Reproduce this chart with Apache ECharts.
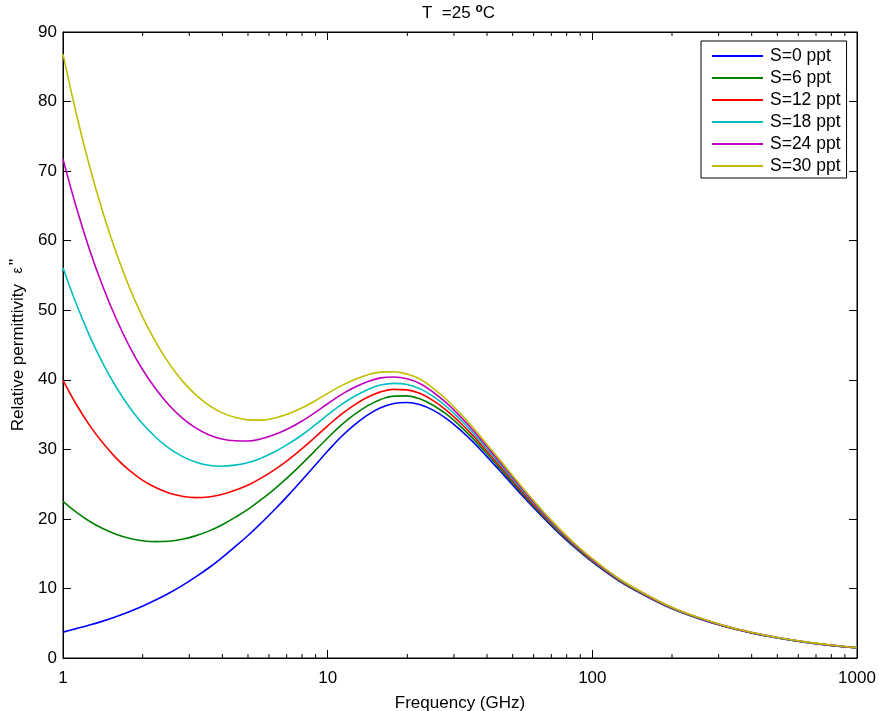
<!DOCTYPE html>
<html><head><meta charset="utf-8">
<script src="https://cdn.jsdelivr.net/npm/echarts/dist/echarts.min.js"></script>
<style>html,body{margin:0;padding:0;background:#fff}#c{width:879px;height:711px}</style>
</head><body><div id="c"></div>
<script>
// Frequency (GHz), log-spaced samples
const freq = [1, 1.122, 1.259, 1.413, 1.585, 1.778, 1.995, 2.239, 2.512, 2.818, 3.162, 3.548, 3.981, 4.467, 5.012, 5.623, 6.31, 7.079, 7.943, 8.913,
  10, 11.22, 12.59, 14.13, 15.85, 17.78, 19.95, 22.39, 25.12, 28.18, 31.62, 35.48, 39.81, 44.67, 50.12, 56.23, 63.1, 70.79, 79.43, 89.13,
  100, 125.9, 158.5, 199.5, 251.2, 316.2, 398.1, 501.2, 631, 794.3, 1000];
// Relative permittivity eps'' per salinity
const s0 = [3.72, 4.22, 4.73, 5.3, 5.94, 6.65, 7.44, 8.33, 9.31, 10.4, 11.62, 12.94, 14.41, 16.0, 17.65, 19.45, 21.35, 23.35, 25.45, 27.6,
  29.75, 31.77, 33.49, 34.92, 35.98, 36.59, 36.74, 36.4, 35.6, 34.39, 32.83, 31.03, 29.03, 26.95, 24.84, 22.75, 20.74, 18.82, 17.02, 15.35,
  13.81, 11.1, 8.95, 7.1, 5.68, 4.52, 3.6, 2.87, 2.28, 1.81, 1.45];
const s6 = [22.52, 20.97, 19.66, 18.61, 17.8, 17.22, 16.86, 16.73, 16.79, 17.07, 17.56, 18.24, 19.13, 20.21, 21.4, 22.79, 24.33, 26.0, 27.81, 29.71,
  31.63, 33.45, 34.98, 36.25, 37.17, 37.65, 37.68, 37.24, 36.31, 35.01, 33.37, 31.5, 29.43, 27.3, 25.14, 23.0, 20.96, 19.0, 17.17, 15.47,
  13.91, 11.18, 9.01, 7.15, 5.72, 4.55, 3.62, 2.89, 2.3, 1.82, 1.46];
const s12 = [39.92, 36.48, 33.48, 30.93, 28.78, 27.0, 25.58, 24.5, 23.72, 23.25, 23.06, 23.14, 23.5, 24.1, 24.87, 25.89, 27.09, 28.46, 30.0, 31.66,
  33.37, 35.0, 36.36, 37.48, 38.26, 38.62, 38.55, 38.02, 36.97, 35.58, 33.86, 31.93, 29.8, 27.62, 25.42, 23.24, 21.15, 19.16, 17.3, 15.59,
  14.01, 11.24, 9.06, 7.19, 5.75, 4.58, 3.65, 2.91, 2.31, 1.83, 1.47];
const s18 = [56.12, 50.92, 46.35, 42.39, 39.0, 36.12, 33.7, 31.74, 30.17, 28.99, 28.19, 27.71, 27.57, 27.73, 28.1, 28.77, 29.66, 30.74, 31.99, 33.43,
  34.94, 36.39, 37.6, 38.58, 39.24, 39.48, 39.32, 38.69, 37.58, 36.12, 34.32, 32.33, 30.15, 27.92, 25.68, 23.46, 21.34, 19.32, 17.43, 15.69,
  14.1, 11.31, 9.12, 7.23, 5.78, 4.6, 3.67, 2.92, 2.32, 1.84, 1.48];
const s24 = [71.72, 64.83, 58.74, 53.44, 48.85, 44.89, 41.52, 38.71, 36.38, 34.53, 33.12, 32.1, 31.49, 31.23, 31.2, 31.52, 32.12, 32.95, 34.0, 35.23,
  36.55, 37.83, 38.89, 39.73, 40.27, 40.41, 40.15, 39.44, 38.17, 36.63, 34.77, 32.72, 30.48, 28.21, 25.93, 23.67, 21.52, 19.46, 17.55, 15.79,
  14.18, 11.37, 9.17, 7.27, 5.82, 4.63, 3.69, 2.94, 2.33, 1.85, 1.48];
const s30 = [86.82, 78.29, 70.74, 64.13, 58.37, 53.38, 49.09, 45.45, 42.39, 39.88, 37.9, 36.36, 35.28, 34.6, 34.24, 34.2, 34.5, 35.07, 35.9, 36.92,
  38.04, 39.12, 40.02, 40.7, 41.1, 41.15, 40.82, 40.08, 38.74, 37.13, 35.2, 33.09, 30.8, 28.5, 26.17, 23.87, 21.69, 19.61, 17.67, 15.89,
  14.27, 11.43, 9.21, 7.31, 5.85, 4.65, 3.7, 2.95, 2.35, 1.86, 1.49];

const seriesNames = ['S=0 ppt', 'S=6 ppt', 'S=12 ppt', 'S=18 ppt', 'S=24 ppt', 'S=30 ppt'];
const seriesValues = [s0, s6, s12, s18, s24, s30];
const colors = ['#0000FF', '#008000', '#FF0000', '#00BFBF', '#BF00BF', '#BFBF00'];
const minorTickValues = [2,3,4,5,6,7,8,9,20,30,40,50,60,70,80,90,200,300,400,500,600,700,800,900];

const FONT = '"Liberation Sans", Arial, Helvetica, sans-serif';
const FS = 17;
const chart = echarts.init(document.getElementById('c'), null, {renderer: 'canvas'});

const axisCommon = {
  axisLine: {show: true, onZero: false, lineStyle: {color: '#000', width: 1}},
  axisTick: {show: true, inside: true, length: 8, lineStyle: {color: '#000', width: 1}},
  splitLine: {show: false}
};

const option = {
  animation: false,
  backgroundColor: '#fff',
  textStyle: {fontFamily: FONT},
  title: {
    text: '{n|T  =25 }{s|o}{n|C}',
    left: 417, top: -2,
    textStyle: {
      fontFamily: FONT,
      rich: {
        n: {fontSize: FS, color: '#000', fontFamily: FONT, fontWeight: 'normal'},
        s: {fontSize: 12, color: '#000', fontFamily: FONT, padding: [0, 0, 9, 0]}
      }
    }
  },
  grid: {left: 63, right: 22, top: 32, bottom: 53, show: true, borderColor: '#000', borderWidth: 1,
    containLabel: false, outerBoundsMode: 'none'},
  legend: {
    orient: 'vertical', left: 701, top: 41,
    backgroundColor: '#fff', borderColor: '#000', borderWidth: 1,
    padding: [6, 6, 3, 11],
    icon: 'rect',
    itemWidth: 51, itemHeight: 2, itemGap: 4,
    textStyle: {fontSize: 17.5, lineHeight: 16, color: '#000', fontFamily: FONT, padding: [0, 0, 0, 2]},
    data: seriesNames
  },
  xAxis: [
    Object.assign({}, axisCommon, {
      type: 'log', logBase: 10, min: 1, max: 1000, position: 'bottom',
      name: 'Frequency (GHz)', nameLocation: 'middle', nameGap: 37,
      nameTextStyle: {fontSize: FS, color: '#000', fontFamily: FONT},
      axisLabel: {fontSize: FS, color: '#000', margin: 12, fontFamily: FONT, formatter: v => String(Math.round(v))}
    }),
    Object.assign({}, axisCommon, {
      type: 'log', logBase: 10, min: 1, max: 1000, position: 'top',
      axisLabel: {show: false}
    })
  ],
  yAxis: [
    Object.assign({}, axisCommon, {
      type: 'value', min: 0, max: 90, interval: 10, position: 'left',
      name: 'Relative permittivity  {e|ε}{p|\'\'}', nameLocation: 'middle', nameGap: 34, nameRotate: 90,
      nameTextStyle: {fontSize: FS, color: '#000', fontFamily: FONT,
        rich: {e: {fontSize: 14, color: '#000', fontFamily: FONT, padding: [0, 1, 0, 1]},
               p: {fontSize: FS, color: '#000', fontFamily: FONT, padding: [0, 0, 4, 1]}}},
      axisLabel: {fontSize: FS, color: '#000', margin: 6, fontFamily: FONT}
    }),
    Object.assign({}, axisCommon, {
      type: 'value', min: 0, max: 90, interval: 10, position: 'right',
      axisLabel: {show: false}
    })
  ],
  series: seriesValues.map((vals, i) => ({
    name: seriesNames[i],
    type: 'line',
    xAxisIndex: 0, yAxisIndex: 0,
    data: freq.map((f, j) => [f, vals[j]]),
    symbol: 'none',
    smooth: 0.4,
    color: colors[i],
    lineStyle: {color: colors[i], width: 1.6},
    z: 2 + i
  }))
};
chart.setOption(option);

// minor ticks on the log axis (bottom and top), placed through the axis scale
const gridRect = {top: 32, bottom: 711 - 53};
const minorLines = [];
minorTickValues.forEach(v => {
  const px = chart.convertToPixel({xAxisIndex: 0}, v);
  minorLines.push({type: 'line', shape: {x1: px, y1: gridRect.bottom, x2: px, y2: gridRect.bottom - 4}, style: {stroke: '#000', lineWidth: 1}, z: 10});
  minorLines.push({type: 'line', shape: {x1: px, y1: gridRect.top, x2: px, y2: gridRect.top + 4}, style: {stroke: '#000', lineWidth: 1}, z: 10});
});
chart.setOption({graphic: minorLines});
</script>
</body></html>
